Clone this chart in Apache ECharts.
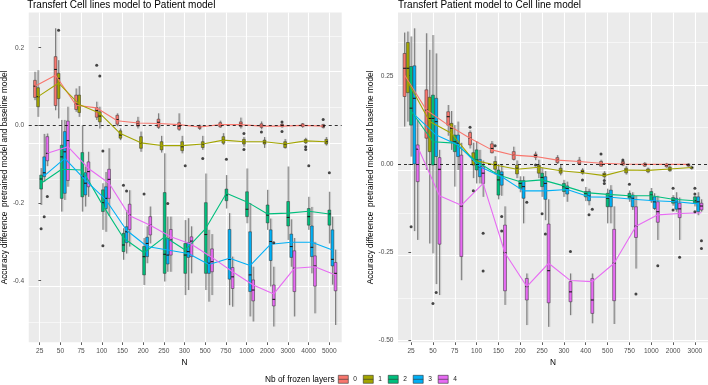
<!DOCTYPE html>
<html><head><meta charset="utf-8">
<script src="https://cdn.jsdelivr.net/npm/echarts@6/dist/echarts.min.js"></script>
<style>html,body{margin:0;padding:0;background:#fff}#c{width:708px;height:385px}</style>
</head><body><div id="c"></div>
<script>
// ---------- DATA ----------
const groups = ['0','1','2','3','4'];
const colors = ['#F8766D','#A3A500','#00BF7D','#00B0F6','#E76BF3'];

const catsL = ['25','50','75','100','150','200','250','300','500','750','1000','2000','3000','4000','5000'];
// boxes: [lower whisker, q1, median, q3, upper whisker]
const boxL0 = [[0.065,0.072,0.101,0.116,0.138],[0.039,0.051,0.144,0.177,0.25],[0.035,0.041,0.055,0.078,0.095],[0.014,0.021,0.038,0.046,0.061],[-0.002,0.003,0.015,0.026,0.031],[-0.008,-0.002,0.005,0.011,0.022],[-0.009,-0.005,0.008,0.016,0.031],[-0.014,-0.010,-0.002,0.007,0.031],[-0.012,-0.008,-0.004,-0.001,0.002],[-0.006,-0.004,0.002,0.007,0.012],[-0.008,-0.003,0.003,0.009,0.02],[-0.01,-0.005,-0.002,0.004,0.01],[-0.006,-0.003,0.0,0.003,0.005],[-0.006,-0.003,0.0,0.004,0.006],[-0.008,-0.005,-0.003,0.002,0.004]];
const boxL1 = [[0.022,0.048,0.074,0.097,0.142],[0.018,0.069,0.121,0.134,0.168],[0.022,0.033,0.052,0.078,0.101],[-0.008,0.009,0.024,0.035,0.048],[-0.038,-0.033,-0.025,-0.014,-0.008],[-0.068,-0.059,-0.045,-0.029,-0.016],[-0.07,-0.063,-0.052,-0.042,-0.027],[-0.072,-0.065,-0.055,-0.042,-0.027],[-0.063,-0.057,-0.049,-0.042,-0.027],[-0.05,-0.046,-0.038,-0.029,-0.02],[-0.055,-0.048,-0.042,-0.036,-0.03],[-0.058,-0.048,-0.043,-0.038,-0.03],[-0.06,-0.057,-0.049,-0.042,-0.035],[-0.048,-0.045,-0.039,-0.036,-0.032],[-0.052,-0.048,-0.042,-0.036,-0.03]];
const boxL2 = [[-0.205,-0.164,-0.138,-0.128,-0.11],[-0.222,-0.188,-0.081,-0.051,0.014],[-0.222,-0.184,-0.132,-0.07,0.0],[-0.269,-0.222,-0.199,-0.166,-0.149],[-0.346,-0.325,-0.308,-0.278,-0.265],[-0.411,-0.385,-0.338,-0.312,-0.29],[-0.402,-0.381,-0.332,-0.173,-0.072],[-0.437,-0.381,-0.334,-0.304,-0.244],[-0.424,-0.381,-0.281,-0.199,-0.124],[-0.214,-0.194,-0.179,-0.164,-0.128],[-0.252,-0.235,-0.216,-0.171,-0.111],[-0.269,-0.251,-0.231,-0.205,-0.166],[-0.295,-0.259,-0.237,-0.196,-0.106],[-0.269,-0.257,-0.235,-0.214,-0.184],[-0.304,-0.257,-0.228,-0.218,-0.171]];
const boxL3 = [[-0.145,-0.132,-0.122,-0.081,-0.022],[-0.192,-0.175,-0.068,-0.016,0.014],[-0.209,-0.179,-0.149,-0.122,-0.106],[-0.274,-0.214,-0.188,-0.158,-0.12],[-0.33,-0.302,-0.274,-0.261,-0.218],[-0.355,-0.338,-0.304,-0.288,-0.26],[-0.377,-0.357,-0.334,-0.291,-0.235],[-0.424,-0.34,-0.325,-0.302,-0.239],[-0.454,-0.381,-0.355,-0.338,-0.269],[-0.463,-0.396,-0.345,-0.268,-0.226],[-0.492,-0.428,-0.385,-0.274,-0.2],[-0.415,-0.348,-0.299,-0.269,-0.24],[-0.364,-0.34,-0.312,-0.28,-0.242],[-0.381,-0.338,-0.314,-0.259,-0.21],[-0.41,-0.362,-0.345,-0.269,-0.235]];
const boxL4 = [[-0.105,-0.091,-0.072,-0.029,-0.021],[-0.158,-0.142,-0.039,0.011,0.048],[-0.184,-0.158,-0.119,-0.094,-0.068],[-0.233,-0.188,-0.139,-0.113,-0.059],[-0.312,-0.268,-0.231,-0.203,-0.167],[-0.304,-0.282,-0.257,-0.235,-0.209],[-0.377,-0.334,-0.295,-0.268,-0.235],[-0.381,-0.338,-0.298,-0.287,-0.26],[-0.437,-0.377,-0.351,-0.318,-0.28],[-0.467,-0.42,-0.39,-0.366,-0.338],[-0.505,-0.452,-0.424,-0.398,-0.364],[-0.518,-0.465,-0.448,-0.411,-0.364],[-0.492,-0.428,-0.368,-0.323,-0.29],[-0.484,-0.414,-0.362,-0.336,-0.3],[-0.514,-0.426,-0.381,-0.353,-0.32]];
const meanL0 = [0.101,0.129,0.052,0.045,0.012,0.006,0.005,0.002,-0.004,0.002,0.002,-0.002,-0.002,0.0,-0.002];
const meanL1 = [0.074,0.109,0.054,0.031,-0.021,-0.045,-0.052,-0.052,-0.048,-0.038,-0.042,-0.042,-0.048,-0.040,-0.042];
const meanL2 = [-0.149,-0.113,-0.115,-0.206,-0.29,-0.328,-0.287,-0.321,-0.265,-0.175,-0.197,-0.228,-0.226,-0.221,-0.228];
const meanL3 = [-0.13,-0.085,-0.141,-0.192,-0.27,-0.312,-0.321,-0.33,-0.358,-0.342,-0.361,-0.306,-0.301,-0.301,-0.321];
const meanL4 = [-0.072,-0.055,-0.111,-0.149,-0.233,-0.257,-0.287,-0.306,-0.34,-0.377,-0.411,-0.434,-0.368,-0.364,-0.385];
// outliers: [category index, group, value]
const outL = [[0,2,-0.266],[0,3,-0.235],[0,4,-0.183],[1,1,0.245],[3,0,0.155],[3,1,0.127],[3,2,-0.066],[3,2,-0.31],[4,2,-0.154],[4,3,-0.169],[5,2,-0.177],[6,3,-0.201],[7,2,-0.104],[8,1,-0.085],[9,2,-0.087],[10,1,-0.021],[10,1,-0.062],[11,0,-0.017],[11,4,-0.302],[12,0,0.009],[12,0,-0.016],[13,1,-0.055],[13,1,-0.062],[13,2,-0.104],[14,0,0.015],[14,2,-0.122]];

const catsR = ['25','50','75','100','150','200','250','300','400','500','750','1000','2000','3000'];
const boxR0 = [[0.106,0.191,0.271,0.313,0.372],[-0.017,0.073,0.153,0.21,0.37],[0.08,0.11,0.134,0.148,0.167],[0.044,0.054,0.073,0.089,0.095],[0.03,0.032,0.044,0.057,0.065],[0.01,0.013,0.025,0.035,0.049],[0.011,0.019,0.024,0.028,0.035],[0.0,0.004,0.011,0.018,0.025],[-0.003,0.0,0.007,0.011,0.02],[-0.008,-0.006,0.0,0.007,0.012],[-0.006,-0.003,0.002,0.007,0.01],[-0.008,-0.006,-0.001,0.002,0.005],[-0.01,-0.008,-0.003,0.0,0.003],[-0.008,-0.006,-0.003,0.0,0.002]];
const boxR1 = [[0.12,0.202,0.271,0.344,0.375],[-0.225,0.035,0.129,0.189,0.323],[0.04,0.063,0.101,0.115,0.15],[-0.04,-0.003,0.011,0.032,0.06],[-0.03,-0.015,-0.003,0.007,0.022],[-0.04,-0.028,-0.012,-0.003,0.01],[-0.04,-0.026,-0.009,-0.003,0.012],[-0.032,-0.026,-0.019,-0.012,-0.003],[-0.03,-0.026,-0.022,-0.017,-0.012],[-0.042,-0.036,-0.031,-0.026,-0.02],[-0.03,-0.025,-0.017,-0.012,-0.006],[-0.026,-0.022,-0.018,-0.014,-0.01],[-0.022,-0.019,-0.015,-0.009,-0.004],[-0.016,-0.013,-0.01,-0.008,-0.005]];
const boxR2 = [[0.021,0.11,0.158,0.276,0.361],[-0.253,-0.003,0.129,0.195,0.365],[-0.064,0.035,0.063,0.082,0.11],[-0.055,-0.017,0.011,0.04,0.065],[-0.1,-0.088,-0.045,-0.017,0.0],[-0.08,-0.069,-0.055,-0.047,-0.035],[-0.093,-0.064,-0.038,-0.026,-0.01],[-0.093,-0.078,-0.064,-0.055,-0.045],[-0.105,-0.093,-0.083,-0.078,-0.065],[-0.168,-0.121,-0.097,-0.083,-0.07],[-0.107,-0.097,-0.091,-0.083,-0.075],[-0.11,-0.104,-0.088,-0.078,-0.068],[-0.118,-0.111,-0.102,-0.095,-0.088],[-0.12,-0.111,-0.104,-0.093,-0.09]];
const boxR3 = [[-0.19,0.0,0.186,0.278,0.384],[-0.34,0.021,0.12,0.186,0.313],[-0.017,0.021,0.059,0.082,0.12],[-0.055,-0.036,-0.008,0.013,0.04],[-0.09,-0.06,-0.031,-0.022,0.0],[-0.168,-0.097,-0.064,-0.047,-0.035],[-0.159,-0.1,-0.055,-0.036,-0.02],[-0.107,-0.085,-0.069,-0.062,-0.05],[-0.117,-0.104,-0.091,-0.078,-0.07],[-0.168,-0.121,-0.093,-0.074,-0.06],[-0.13,-0.121,-0.097,-0.088,-0.08],[-0.13,-0.126,-0.107,-0.093,-0.083],[-0.135,-0.128,-0.107,-0.097,-0.08],[-0.145,-0.135,-0.107,-0.093,-0.08]];
const boxR4 = [[-0.215,-0.05,0.042,0.054,0.125],[-0.371,-0.227,-0.015,0.018,0.04],[-0.329,-0.262,-0.119,0.025,0.06],[-0.093,-0.055,-0.026,-0.008,0.01],[-0.399,-0.359,-0.251,-0.173,-0.12],[-0.456,-0.385,-0.347,-0.324,-0.31],[-0.461,-0.393,-0.302,-0.17,-0.1],[-0.428,-0.39,-0.362,-0.333,-0.31],[-0.451,-0.423,-0.385,-0.324,-0.31],[-0.453,-0.387,-0.281,-0.185,-0.12],[-0.296,-0.208,-0.176,-0.121,-0.09],[-0.215,-0.165,-0.135,-0.107,-0.09],[-0.215,-0.152,-0.127,-0.111,-0.095],[-0.135,-0.13,-0.119,-0.111,-0.1]];
const meanR0 = [0.252,0.153,0.11,0.073,0.04,0.025,0.021,0.011,0.007,0.002,0.0,-0.001,-0.001,-0.001];
const meanR1 = [0.233,0.12,0.087,0.011,-0.003,-0.015,-0.009,-0.019,-0.025,-0.033,-0.017,-0.018,-0.014,-0.01];
const meanR2 = [0.15,0.063,0.059,0.007,-0.031,-0.05,-0.045,-0.062,-0.081,-0.086,-0.09,-0.09,-0.1,-0.104];
const meanR3 = [0.14,0.082,0.054,-0.008,-0.036,-0.076,-0.076,-0.072,-0.093,-0.094,-0.1,-0.104,-0.107,-0.113];
const meanR4 = [0.049,-0.09,-0.117,-0.055,-0.252,-0.347,-0.281,-0.33,-0.333,-0.281,-0.176,-0.144,-0.14,-0.138];
const outR = [[0,2,-0.178],[1,2,-0.395],[1,3,-0.364],[3,0,0.104],[3,1,-0.076],[3,4,-0.196],[3,4,-0.303],[4,1,0.052],[4,3,-0.149],[4,3,-0.19],[5,4,-0.108],[6,0,-0.003],[6,2,-0.141],[6,3,-0.198],[7,4,-0.248],[8,1,-0.045],[8,4,-0.128],[8,3,-0.144],[9,0,0.028],[9,1,-0.047],[9,1,-0.055],[10,0,0.011],[10,2,-0.057],[10,4,-0.368],[11,4,-0.288],[12,2,-0.069],[12,2,-0.13],[12,4,-0.264],[13,2,-0.069],[13,2,-0.085],[13,2,-0.135],[13,4,-0.217],[13,4,-0.239]];

const yTicksL = [0.2, 0.0, -0.2, -0.4];
const yTicksR = [0.25, 0.0, -0.25, -0.5];

// ---------- LAYOUT ----------
const FONT = 'Liberation Sans, Arial, sans-serif';
const DODGE = 0.15, BOXW = 0.135;
const panels = [
  {left:27.3, right:341.7, top:12.5, bottom:342.3, min:-0.5586, max:0.2907, cats:catsL,
   boxes:[boxL0,boxL1,boxL2,boxL3,boxL4], means:[meanL0,meanL1,meanL2,meanL3,meanL4], outs:outL,
   ticks:yTicksL, dec:1, eMin:-0.6, eMax:0.4, eInt:0.2, nameGap:18,
   title:'Transfert Cell lines model to Patient model'},
  {left:398, right:708, top:12.5, bottom:342.3, min:-0.5048, max:0.4289, cats:catsR,
   boxes:[boxR0,boxR1,boxR2,boxR3,boxR4], means:[meanR0,meanR1,meanR2,meanR3,meanR4], outs:outR,
   ticks:yTicksR, dec:2, eMin:-0.5, eMax:0.5, eInt:0.25, nameGap:23,
   title:'Transfert Patient model to Cell line model'}
];

function renderBox(params, api){
  const x = api.value(0);
  const lo = api.coord([x, api.value(1)]);
  const q1 = api.coord([x, api.value(2)]);
  const md = api.coord([x, api.value(3)]);
  const q3 = api.coord([x, api.value(4)]);
  const hi = api.coord([x, api.value(5)]);
  const w = api.size([BOXW, 0])[0];
  const color = api.visual('color');
  return {type:'group', children:[
    {type:'line', shape:{x1:hi[0]+0.7, y1:hi[1], x2:lo[0]+0.7, y2:lo[1]}, style:{stroke:'rgba(130,130,130,0.32)', lineWidth:2}},
    {type:'line', shape:{x1:hi[0], y1:hi[1], x2:lo[0], y2:lo[1]}, style:{stroke:'#444', lineWidth:0.6}},
    {type:'rect', shape:{x:q3[0]-w/2, y:q3[1], width:w, height:q1[1]-q3[1]}, style:{fill:color, stroke:'#333', lineWidth:0.5}},
    {type:'line', shape:{x1:md[0]-w/2, y1:md[1], x2:md[0]+w/2, y2:md[1]}, style:{stroke:'#1a1a1a', lineWidth:1.1}}
  ]};
}

const grid = [], xAxis = [], yAxis = [], series = [], title = [];
panels.forEach((P, pi) => {
  const n = P.cats.length;
  const W = P.right - P.left, H = P.bottom - P.top;
  const u = W / (n - 1 + 1.2);
  const scale = H / (P.max - P.min);
  const zeroY = P.top + P.max * scale;
  const gP = grid.length;
  // panel grid (background + marks)
  grid.push({left:P.left, top:P.top, width:W, height:H, show:true, backgroundColor:'#EBEBEB', borderWidth:0, z:0});
  xAxis.push({gridIndex:gP, type:'value', min:-0.6, max:n-1+0.6, show:false});
  yAxis.push({gridIndex:gP, type:'value', min:P.min, max:P.max, z:1,
    axisLine:{show:false}, splitLine:{show:false},
    axisTick:{show:true, customValues:P.ticks, length:2.7, lineStyle:{color:'#333', width:0.8}},
    axisLabel:{show:true, customValues:P.ticks, formatter:v=>v.toFixed(P.dec), fontSize:6.6, color:'#4D4D4D', margin:4.5, fontFamily:FONT},
    name:'Accuracy difference  pretrained model and baseline model', nameLocation:'middle', nameRotate:90, nameGap:P.nameGap,
    nameTextStyle:{fontSize:8.3, color:'#000', fontFamily:FONT}});
  // extended grid for horizontal grid lines
  const gE = grid.length;
  grid.push({left:P.left, top:zeroY - P.eMax*scale, width:W, height:(P.eMax-P.eMin)*scale, show:false, borderWidth:0});
  xAxis.push({gridIndex:gE, type:'value', min:0, max:1, show:false});
  yAxis.push({gridIndex:gE, type:'value', min:P.eMin, max:P.eMax, interval:P.eInt, z:1,
    axisLine:{show:false}, axisTick:{show:false}, axisLabel:{show:false},
    splitLine:{show:true, lineStyle:{color:'#FFFFFF', width:1.1}},
    minorTick:{show:false, splitNumber:2},
    minorSplitLine:{show:true, lineStyle:{color:'#FFFFFF', width:0.55}}});
  // category grid (labels + vertical grid lines)
  const gC = grid.length;
  grid.push({left:P.left + 0.6*u, top:P.top, width:(n-1)*u, height:H, show:false, borderWidth:0});
  xAxis.push({gridIndex:gC, type:'category', data:P.cats, boundaryGap:false, z:1,
    axisLine:{show:false},
    axisTick:{show:true, length:2.7, interval:0, lineStyle:{color:'#333', width:0.8}},
    axisLabel:{show:true, interval:0, fontSize:6.6, color:'#4D4D4D', margin:5, fontFamily:FONT},
    splitLine:{show:true, interval:0, lineStyle:{color:'#FFFFFF', width:1.1}},
    name:'N', nameLocation:'middle', nameGap:13.5, nameTextStyle:{fontSize:8.3, color:'#000', fontFamily:FONT}});
  yAxis.push({gridIndex:gC, type:'value', min:0, max:1, show:false});

  // boxes
  P.boxes.forEach((arr, g) => {
    series.push({type:'custom', name:groups[g], xAxisIndex:gP, yAxisIndex:gP, z:3,
      itemStyle:{color:colors[g]}, renderItem:renderBox, encode:{x:0, y:[1,2,3,4,5]},
      data: arr.map((b, i) => [i + (g-2)*DODGE].concat(b))});
  });
  // mean lines
  P.means.forEach((arr, g) => {
    series.push({type:'line', name:'m'+groups[g], xAxisIndex:gP, yAxisIndex:gP, z:4,
      symbol:'none', lineStyle:{color:colors[g], width:1.1}, itemStyle:{color:colors[g]},
      data: arr.map((m, i) => [i + (g-2)*DODGE, m])});
  });
  // outliers + dashed zero line
  series.push({type:'scatter', name:'out', xAxisIndex:gP, yAxisIndex:gP, z:5,
    symbolSize:3, itemStyle:{color:'#1a1a1a'},
    data: P.outs.map(([i, g, v]) => [i + (g-2)*DODGE, v]),
    markLine:{silent:true, symbol:'none', label:{show:false},
      lineStyle:{color:'#000', type:[3,3], width:0.8}, data:[{yAxis:0}]}});
  title.push({text:P.title, left:P.left, top:0, padding:0,
    textStyle:{fontSize:10, fontWeight:'normal', color:'#000', fontFamily:FONT, lineHeight:10}});
});
title.push({text:'Nb of frozen layers', left:265, top:374.5, padding:0,
  textStyle:{fontSize:8.3, fontWeight:'normal', color:'#000', fontFamily:FONT, lineHeight:10}});

const chart = echarts.init(document.getElementById('c'), null, {renderer:'canvas'});
chart.setOption({
  animation:false,
  textStyle:{fontFamily:FONT},
  title: title,
  grid: grid, xAxis: xAxis, yAxis: yAxis,
  legend:{data:groups, left:338, top:375, padding:0, itemWidth:10, itemHeight:8, itemGap:6, selectedMode:false,
    icon:'path://M0,0H10V8H0Z M0,4H10',
    itemStyle:{borderColor:'#333', borderWidth:0.6},
    textStyle:{fontSize:6.6, color:'#1a1a1a', fontFamily:FONT}},
  series: series
});
</script></body></html>
